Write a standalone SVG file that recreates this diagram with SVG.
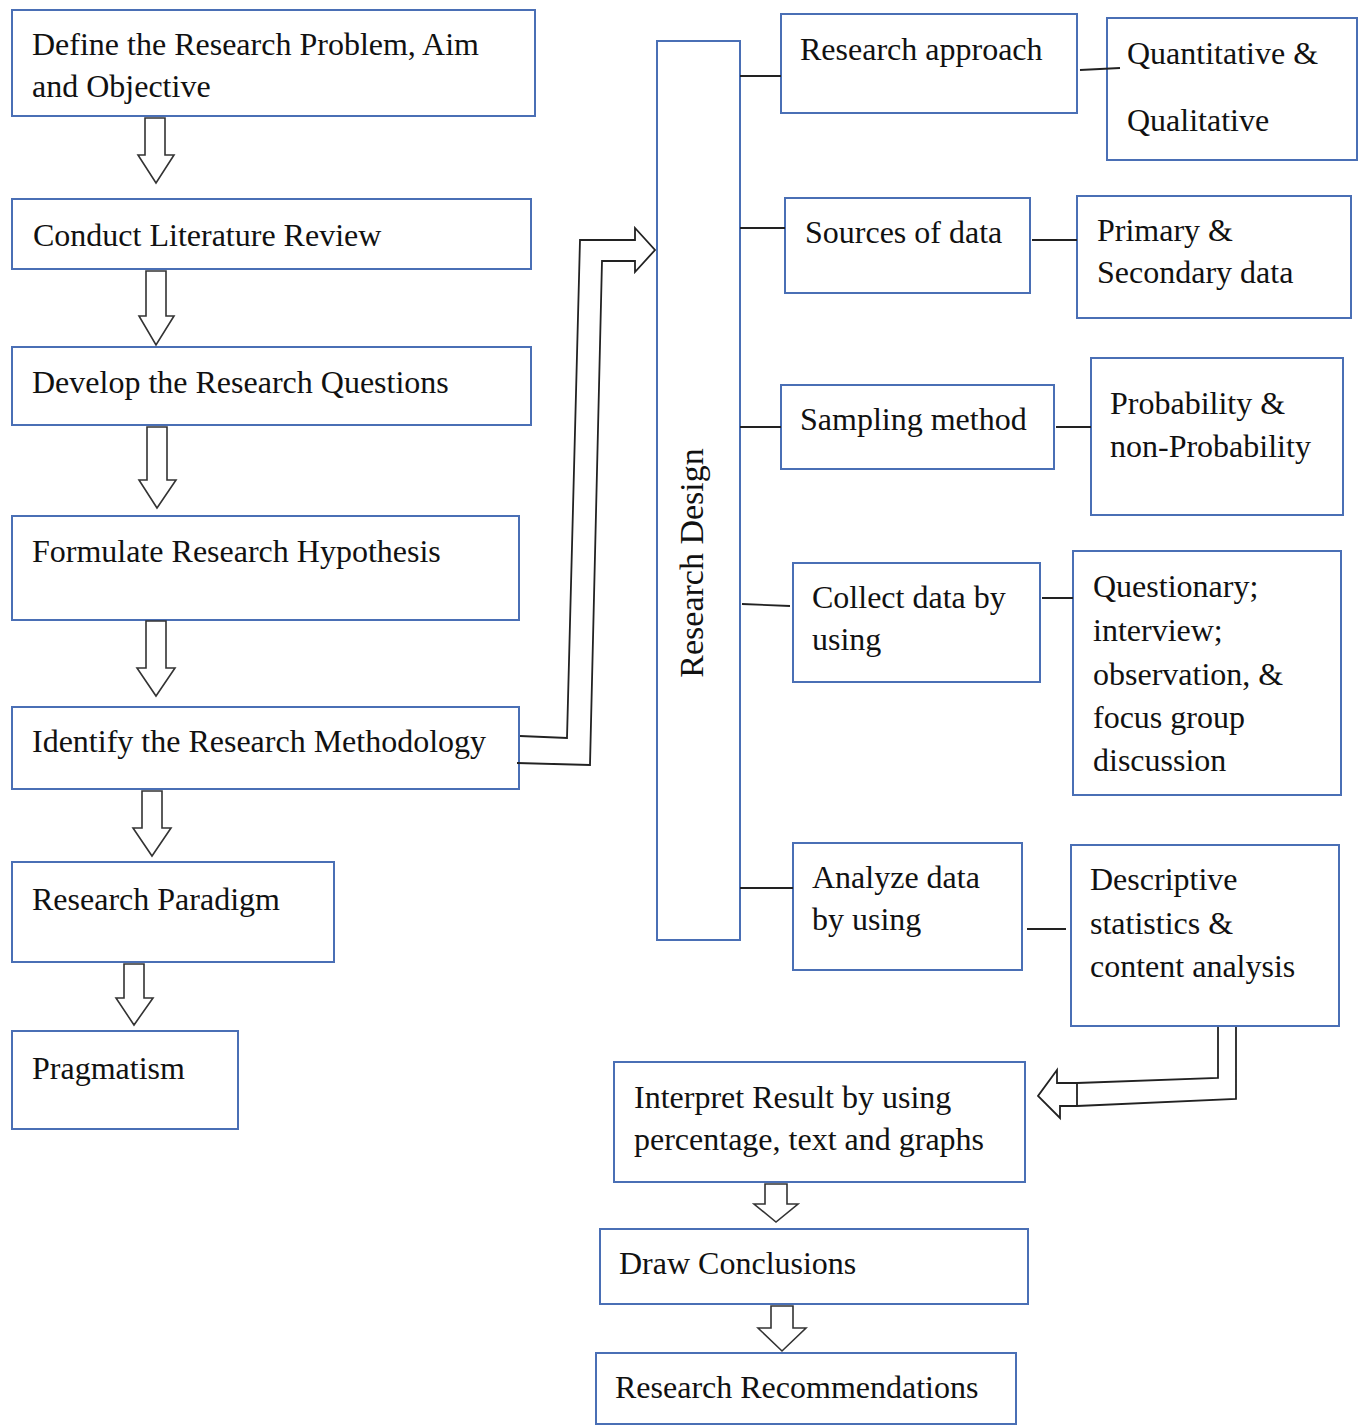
<svg xmlns="http://www.w3.org/2000/svg" width="1364" height="1426" viewBox="0 0 1364 1426">
<style>
.box{fill:#fff;stroke:#4a6fb5;stroke-width:2}
.t{font-family:"Liberation Serif","Times New Roman",serif;font-size:32px;fill:#111}
.arr{fill:#fff;stroke:#333;stroke-width:1.6;stroke-linejoin:miter}
.ln{fill:none;stroke:#222;stroke-width:1.8}
</style>
<rect width="1364" height="1426" fill="#fff"/>
<g id="n1"><rect class="box" x="12" y="10" width="523" height="106"/><text class="t" x="32" y="55">Define the Research Problem, Aim</text><text class="t" x="32" y="97">and Objective</text></g>
<g id="n2"><rect class="box" x="12" y="199" width="519" height="70"/><text class="t" x="33" y="246">Conduct Literature Review</text></g>
<g id="n3"><rect class="box" x="12" y="347" width="519" height="78"/><text class="t" x="32" y="393">Develop the Research Questions</text></g>
<g id="n4"><rect class="box" x="12" y="516" width="507" height="104"/><text class="t" x="32" y="562">Formulate Research Hypothesis</text></g>
<g id="n5"><rect class="box" x="12" y="707" width="507" height="82"/><text class="t" x="32" y="752">Identify the Research Methodology</text></g>
<g id="n6"><rect class="box" x="12" y="862" width="322" height="100"/><text class="t" x="32" y="910">Research Paradigm</text></g>
<g id="n7"><rect class="box" x="12" y="1031" width="226" height="98"/><text class="t" x="32" y="1079">Pragmatism</text></g>
<g id="rd"><rect class="box" x="657" y="41" width="83" height="899"/><text class="t" style="font-size:34px" text-anchor="middle" transform="translate(703,563) rotate(-90)">Research Design</text></g>
<g id="ra"><rect class="box" x="781" y="14" width="296" height="99"/><text class="t" x="800" y="60">Research approach</text></g>
<g id="qq"><rect class="box" x="1107" y="18" width="250" height="142"/><text class="t" x="1127" y="64">Quantitative &amp;</text><text class="t" x="1127" y="131">Qualitative</text></g>
<g id="sd"><rect class="box" x="785" y="198" width="245" height="95"/><text class="t" x="805" y="243">Sources of data</text></g>
<g id="ps"><rect class="box" x="1077" y="196" width="274" height="122"/><text class="t" x="1097" y="241">Primary &amp;</text><text class="t" x="1097" y="283">Secondary data</text></g>
<g id="sm"><rect class="box" x="781" y="385" width="273" height="84"/><text class="t" x="800" y="430">Sampling method</text></g>
<g id="pn"><rect class="box" x="1091" y="358" width="252" height="157"/><text class="t" x="1110" y="414">Probability &amp;</text><text class="t" x="1110" y="457">non-Probability</text></g>
<g id="cd"><rect class="box" x="793" y="563" width="247" height="119"/><text class="t" x="812" y="608">Collect data by</text><text class="t" x="812" y="650">using</text></g>
<g id="qi"><rect class="box" x="1073" y="551" width="268" height="244"/><text class="t" x="1093" y="597">Questionary;</text><text class="t" x="1093" y="641">interview;</text><text class="t" x="1093" y="685">observation, &amp;</text><text class="t" x="1093" y="728">focus group</text><text class="t" x="1093" y="771">discussion</text></g>
<g id="ad"><rect class="box" x="793" y="843" width="229" height="127"/><text class="t" x="812" y="888">Analyze data</text><text class="t" x="812" y="930">by using</text></g>
<g id="ds"><rect class="box" x="1071" y="845" width="268" height="181"/><text class="t" x="1090" y="890">Descriptive</text><text class="t" x="1090" y="934">statistics &amp;</text><text class="t" x="1090" y="977">content analysis</text></g>
<g id="ir"><rect class="box" x="614" y="1062" width="411" height="120"/><text class="t" x="634" y="1108">Interpret Result by using</text><text class="t" x="634" y="1150">percentage, text and graphs</text></g>
<g id="dc"><rect class="box" x="600" y="1229" width="428" height="75"/><text class="t" x="619" y="1274">Draw Conclusions</text></g>
<g id="rr"><rect class="box" x="596" y="1353" width="420" height="71"/><text class="t" x="615" y="1398">Research Recommendations</text></g>
<g id="connectors">
<path class="arr" d="M145,118 L165,118 L165,155 L174,155 L156,183 L138,155 L145,155 Z"/>
<path class="arr" d="M146,271 L166,271 L166,316 L174,316 L156,345 L139,316 L146,316 Z"/>
<path class="arr" d="M147,427 L167,427 L167,480 L176,480 L157,508 L139,480 L147,480 Z"/>
<path class="arr" d="M146,621 L166,621 L166,668 L175,668 L156,696 L137,668 L146,668 Z"/>
<path class="arr" d="M142,791 L162,791 L162,828 L171,828 L152,856 L133,828 L142,828 Z"/>
<path class="arr" d="M124,964 L144,964 L144,998 L153,998 L134,1025 L116,998 L124,998 Z"/>
<path class="arr" d="M765,1184 L787,1184 L787,1204 L798,1204 L776,1222 L754,1204 L765,1204 Z"/>
<path class="arr" d="M771,1306 L793,1306 L793,1328 L806,1328 L782,1351 L758,1328 L771,1328 Z"/>
<path class="ln" d="M520,736 L567,738 L580,240 L635,240 L635,228 L655,250 L635,272 L635,261 L602,261 L590,765 L517,763"/>
<path class="ln" d="M1218,1027 L1218,1078 L1077,1083 L1057,1083 L1057,1070 L1038,1096 L1060,1118 L1060,1106 L1077,1106 L1236,1099 L1236,1027 M1077,1083 L1077,1106"/>
<path class="ln" d="M740,76 L781,76 M740,228 L785,228 M740,427 L781,427 M742,604 L790,606 M740,888 L793,888"/>
<path class="ln" d="M1080,70 L1120,68 M1032,240 L1077,240 M1056,427 L1091,427 M1042,598 L1073,598 M1027,929 L1066,929"/>
</g>
</svg>
